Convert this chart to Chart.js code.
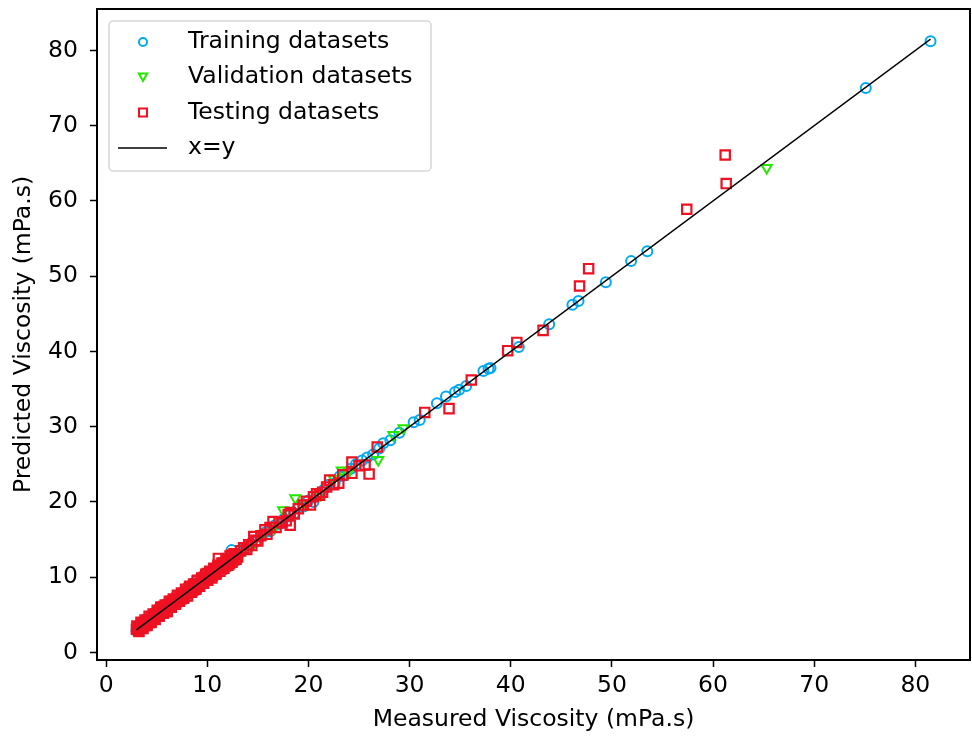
<!DOCTYPE html>
<html>
<head>
<meta charset="utf-8">
<title>Predicted vs Measured Viscosity</title>
<script src="https://cdn.jsdelivr.net/npm/chart.js@4.4.0/dist/chart.umd.min.js"></script>
<style>
  html, body { margin: 0; padding: 0; background: #fff; }
  canvas { display: block; }
</style>
</head>
<body>
<canvas id="viscChart" width="972" height="736"></canvas>
<script>
// measured / predicted viscosity (mPa.s)
const trainMeasured = [3.0, 3.2, 3.4, 3.6, 3.8, 4.0, 4.2, 4.4, 4.6, 4.8, 5.0, 5.2, 5.4, 5.6, 5.8, 6.0, 6.3, 6.6, 6.9, 7.2,
  7.5, 7.8, 8.1, 8.4, 8.7, 9.0, 9.4, 9.8, 10.2, 10.6, 11.0, 11.5, 12.0, 12.4, 12.5, 13.0, 13.3, 13.8, 14.3, 14.8,
  15.3, 15.8, 16.2, 16.7, 17.2, 17.6, 18.1, 18.6, 19.0, 19.5, 20.0, 20.5, 21.0, 21.5, 22.0, 22.6, 23.1, 23.6, 24.2, 24.7,
  25.3, 25.8, 26.4, 27.0, 27.4, 28.1, 29.0, 30.4, 31.0, 32.7, 33.6, 34.5, 34.9, 35.6, 37.3, 37.8, 38.0, 40.8, 43.8, 46.1,
  46.7, 49.4, 51.9, 53.5, 75.1, 81.5];
const trainPredicted = [2.9, 3.1, 3.5, 3.5, 3.9, 3.9, 4.3, 4.3, 4.7, 4.7, 5.1, 5.1, 5.5, 5.5, 5.9, 5.9, 6.2, 6.7, 6.8, 7.3,
  7.4, 7.9, 8.0, 8.5, 8.6, 9.1, 9.3, 9.9, 10.1, 10.7, 10.9, 11.6, 11.9, 13.6, 12.7, 13.1, 13.6, 13.7, 14.5, 14.7,
  15.4, 16.0, 16.1, 16.9, 17.1, 17.8, 18.2, 18.5, 19.3, 19.4, 20.2, 20.0, 21.1, 21.6, 22.3, 22.5, 23.4, 23.5, 24.4, 25.0,
  25.5, 25.9, 26.3, 27.1, 27.8, 28.2, 29.2, 30.6, 30.9, 33.1, 34.0, 34.6, 34.9, 35.4, 37.4, 37.7, 37.8, 40.6, 43.6, 46.2,
  46.7, 49.2, 52.0, 53.3, 75.0, 81.2];

const validMeasured = [3.5, 4.5, 5.5, 6.5, 7.4, 8.6, 9.7, 10.8, 11.7, 12.6, 13.4, 14.5, 15.6, 16.6, 17.5, 18.7, 19.8, 21.2,
  22.5, 23.3, 24.0, 26.9, 28.4, 29.4, 65.3];
const validPredicted = [3.6, 4.4, 5.6, 6.4, 7.6, 8.5, 9.9, 10.6, 11.9, 12.4, 13.2, 14.4, 15.8, 16.5, 18.9, 20.5, 19.7, 21.0,
  23.1, 24.2, 24.1, 25.6, 28.9, 29.8, 64.4];

const testMeasured = [3.0, 3.1, 3.2, 3.3, 3.4, 3.5, 3.6, 3.7, 3.8, 3.9, 4.0, 4.1, 4.2, 4.3, 4.4, 4.5, 4.6, 4.7, 4.8, 4.9,
  5.0, 5.1, 5.2, 5.3, 5.4, 5.5, 5.6, 5.7, 5.8, 5.9, 6.0, 6.1, 6.2, 6.3, 6.4, 6.5, 6.6, 6.8, 6.9, 7.0,
  7.1, 7.3, 7.4, 7.6, 7.7, 7.9, 8.0, 8.2, 8.3, 8.5, 8.6, 8.8, 8.9, 9.0, 9.2, 9.4, 9.5, 9.7, 9.9, 10.0,
  10.2, 10.4, 10.5, 10.7, 10.9, 11.1, 11.2, 11.4, 11.6, 11.8, 12.0, 12.2, 12.4, 12.6, 12.8, 13.0, 13.3, 13.6, 13.9, 14.1,
  14.4, 14.6, 14.8, 15.0, 15.3, 15.7, 15.9, 16.2, 16.5, 16.8, 17.1, 17.4, 17.8, 18.0, 18.2, 18.2, 18.6, 19.0, 19.5, 19.8,
  20.2, 20.5, 20.8, 21.1, 21.4, 21.8, 22.1, 22.5, 23.0, 23.4, 24.3, 24.3, 25.0, 25.6, 26.0, 26.8, 31.5, 33.9, 36.1, 39.7,
  40.6, 43.2, 46.8, 47.7, 57.4, 61.2, 61.3,
  3.05, 3.25, 3.45, 3.65, 3.85, 4.05, 4.25, 4.45, 4.65, 4.85, 5.05, 5.25, 5.45, 5.65, 5.85, 6.05, 6.25, 6.45, 6.65, 6.85,
  7.05, 7.25, 7.45, 7.65, 7.85, 8.05, 8.25, 8.45, 8.65, 8.85, 9.05, 9.25, 9.45, 9.65, 9.85, 10.05, 10.25, 10.45, 10.65, 10.85,
  11.05, 11.25, 11.45, 11.65, 11.85, 12.05, 12.25, 12.45, 12.65, 12.85];
const testPredicted = [3.1, 3.3, 3.0, 3.4, 3.3, 3.7, 3.5, 3.8, 3.6, 4.1, 3.9, 4.3, 4.0, 4.4, 4.2, 4.7, 4.5, 4.9, 4.6, 5.1,
  4.9, 5.3, 5.0, 5.6, 6.0, 5.3, 5.8, 6.1, 5.6, 6.0, 5.4, 6.3, 6.0, 6.5, 6.2, 6.8, 6.4, 7.0, 6.6, 7.2,
  6.8, 7.5, 7.1, 7.8, 7.4, 8.1, 7.8, 8.5, 8.0, 8.7, 8.3, 9.1, 8.6, 9.5, 9.0, 9.6, 9.2, 10.0, 9.6, 10.5,
  10.0, 10.7, 10.2, 11.0, 10.6, 12.5, 11.4, 11.1, 11.9, 11.5, 12.2, 11.8, 12.9, 12.3, 13.0, 12.7, 13.5, 13.9, 13.7, 14.3,
  14.2, 15.4, 14.9, 14.8, 15.5, 16.3, 15.7, 16.6, 17.4, 16.6, 17.3, 17.2, 17.5, 18.3, 18.6, 16.9, 18.4, 19.1, 19.6, 20.1,
  19.6, 20.7, 21.1, 20.9, 21.3, 22.0, 22.9, 22.3, 22.5, 23.6, 23.8, 25.3, 24.8, 24.9, 23.7, 27.3, 31.9, 32.4, 36.2, 40.1,
  41.2, 42.8, 48.7, 51.0, 58.9, 66.1, 62.3,
  3.5, 2.8, 4.0, 3.2, 4.3, 3.6, 4.8, 4.0, 5.1, 4.4, 5.6, 4.8, 6.0, 5.2, 6.3, 5.5, 6.8, 6.0, 7.1, 6.4,
  7.6, 6.8, 7.9, 7.2, 8.4, 7.5, 8.8, 8.0, 9.1, 8.4, 9.6, 8.8, 9.9, 9.2, 10.4, 9.6, 10.8, 9.9, 11.2, 10.4,
  11.6, 10.8, 11.9, 11.2, 12.4, 11.6, 12.8, 12.0, 13.1, 12.4];

const lineEnds = [3.0, 81.5];
const tickValues = [0, 10, 20, 30, 40, 50, 60, 70, 80];
const legendLabels = ['Training datasets', 'Validation datasets', 'Testing datasets', 'x=y'];

const BLUE = '#00a9f2';
const GREEN = '#22e800';
const RED = '#ee1122';
const FONT = '"DejaVu Sans", sans-serif';
const FS = 23.5;

const toPoints = (xs, ys) => xs.map((x, i) => ({ x: x, y: ys[i] }));

// full box around the plot area
const frame = {
  id: 'frame',
  afterDatasetsDraw(chart) {
    const { ctx, chartArea: a } = chart;
    ctx.save();
    ctx.strokeStyle = '#000';
    ctx.lineWidth = 2;
    ctx.strokeRect(a.left, a.top, a.right - a.left, a.bottom - a.top);
    ctx.restore();
  }
};

// matplotlib style legend in the upper left corner
const boxLegend = {
  id: 'boxLegend',
  afterDraw(chart) {
    const { ctx } = chart;
    const x0 = 109, y0 = 21, w = 322, h = 150;
    ctx.save();
    ctx.beginPath();
    ctx.roundRect(x0, y0, w, h, 4);
    ctx.fillStyle = 'rgba(255,255,255,0.8)';
    ctx.fill();
    ctx.strokeStyle = '#d6d6d6';
    ctx.lineWidth = 1.5;
    ctx.stroke();

    const rows = [42, 77, 112.5, 148];
    const mx = 143;
    ctx.lineWidth = 2;

    // circle
    ctx.strokeStyle = BLUE;
    ctx.beginPath();
    ctx.arc(mx, rows[0], 4, 0, Math.PI * 2);
    ctx.stroke();
    // down triangle
    ctx.strokeStyle = GREEN;
    ctx.beginPath();
    ctx.moveTo(mx - 4.2, rows[1] - 3.5);
    ctx.lineTo(mx + 4.2, rows[1] - 3.5);
    ctx.lineTo(mx, rows[1] + 4);
    ctx.closePath();
    ctx.stroke();
    // square
    ctx.strokeStyle = RED;
    ctx.strokeRect(mx - 4, rows[2] - 4, 8, 8);
    // line
    ctx.strokeStyle = '#000';
    ctx.lineWidth = 1.3;
    ctx.beginPath();
    ctx.moveTo(118, rows[3]);
    ctx.lineTo(167, rows[3]);
    ctx.stroke();

    ctx.fillStyle = '#000';
    ctx.font = FS + 'px ' + FONT;
    ctx.textBaseline = 'middle';
    legendLabels.forEach((t, i) => ctx.fillText(t, 188, rows[i]));
    ctx.restore();
  }
};

const ctx = document.getElementById('viscChart').getContext('2d');

// lower "order" is painted later, so the x=y line ends up on top
new Chart(ctx, {
  type: 'scatter',
  data: {
    datasets: [
      {
        label: legendLabels[0],
        data: toPoints(trainMeasured, trainPredicted),
        order: 3,
        pointStyle: 'circle',
        pointRadius: 5,
        borderWidth: 2,
        borderColor: BLUE,
        backgroundColor: 'rgba(0,0,0,0)'
      },
      {
        label: legendLabels[1],
        data: toPoints(validMeasured, validPredicted),
        order: 2,
        pointStyle: 'triangle',
        rotation: 180,
        pointRadius: 5.8,
        borderWidth: 2,
        borderColor: GREEN,
        backgroundColor: 'rgba(0,0,0,0)'
      },
      {
        label: legendLabels[2],
        data: toPoints(testMeasured, testPredicted),
        order: 1,
        pointStyle: 'rect',
        pointRadius: 6.6,
        borderWidth: 2.2,
        borderColor: RED,
        backgroundColor: 'rgba(0,0,0,0)'
      },
      {
        type: 'line',
        label: legendLabels[3],
        data: toPoints(lineEnds, lineEnds),
        order: 0,
        borderColor: '#000',
        borderWidth: 1.3,
        pointRadius: 0,
        fill: false
      }
    ]
  },
  options: {
    responsive: false,
    animation: false,
    devicePixelRatio: 1,
    layout: { autoPadding: false, padding: { top: 9, right: 2, left: 0, bottom: 0 } },
    plugins: {
      legend: { display: false },
      tooltip: { enabled: false }
    },
    scales: {
      x: {
        type: 'linear',
        min: -0.9,
        max: 85.4,
        afterBuildTicks: (s) => { s.ticks = tickValues.map(v => ({ value: v })); },
        afterFit: (s) => { s.height = 76; s.paddingLeft = 0; s.paddingRight = 0; },
        border: { color: '#000', width: 2 },
        grid: { drawOnChartArea: false, drawTicks: true, tickLength: 7, tickColor: '#000', tickWidth: 1.5 },
        ticks: { color: '#000', font: { family: FONT, size: FS }, padding: 5, maxRotation: 0 },
        title: { display: true, text: 'Measured Viscosity (mPa.s)', color: '#000',
          font: { family: FONT, size: FS }, padding: { top: 0, bottom: 2 } }
      },
      y: {
        type: 'linear',
        min: -1.0,
        max: 85.5,
        afterBuildTicks: (s) => { s.ticks = tickValues.map(v => ({ value: v })); },
        afterFit: (s) => { s.width = 97; s.paddingTop = 0; s.paddingBottom = 0; },
        border: { color: '#000', width: 2 },
        grid: { drawOnChartArea: false, drawTicks: true, tickLength: 7, tickColor: '#000', tickWidth: 1.5 },
        ticks: { color: '#000', font: { family: FONT, size: FS }, padding: 12 },
        title: { display: true, text: 'Predicted Viscosity (mPa.s)', color: '#000',
          font: { family: FONT, size: FS }, padding: { top: 10, bottom: 0 } }
      }
    }
  },
  plugins: [frame, boxLegend]
});
</script>
</body>
</html>
